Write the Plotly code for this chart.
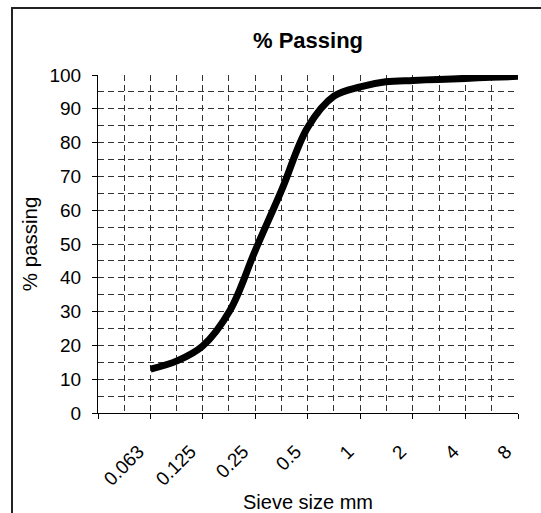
import numpy as np
import plotly.graph_objects as go

# Data
sieve_mm = [0.063, 0.09, 0.125, 0.18, 0.25, 0.355, 0.5, 0.71, 1, 1.4, 2, 2.8, 4, 5.6, 8]
pct_passing = [13, 15.5, 19.8, 30.5, 48, 66, 84.5, 93.8, 96.5, 98, 98.4, 98.7, 99, 99.3, 99.6]

tick_vals = [0.063, 0.125, 0.25, 0.5, 1, 2, 4, 8]
tick_text = ["0.063", "0.125", "0.25", "0.5", "1", "2", "4", "8"]

x_left = tick_vals[0] / 2
major_vals = [x_left] + tick_vals
minor_vals = [float(np.sqrt(a * b)) for a, b in zip(major_vals[:-1], major_vals[1:])]

FONT = "Liberation Sans, Arial, sans-serif"
GRID = "#333333"
DASH = "6px,4px"

PLOT_W = 420
xr = [np.log10(x_left), np.log10(8)]
# label axis shifted ~12px left (Excel places rotated labels a little left of the tick)
shift = 12 / PLOT_W * (xr[1] - xr[0])
xr2 = [xr[0] + shift, xr[1] + shift]

fig = go.Figure()
fig.add_trace(go.Scatter(
    x=sieve_mm, y=pct_passing, mode="lines",
    line=dict(color="black", width=7, shape="spline", smoothing=1.0),
    showlegend=False, hoverinfo="x+y"))
# invisible trace that carries the label axis
fig.add_trace(go.Scatter(
    x=tick_vals, y=[None] * len(tick_vals), xaxis="x2", mode="lines",
    showlegend=False, hoverinfo="skip"))

fig.update_layout(
    width=541, height=513,
    margin=dict(l=98, r=23, t=75, b=100, autoexpand=False),
    paper_bgcolor="white", plot_bgcolor="white",
    font=dict(family=FONT, color="black", size=19),
    title=dict(text="<b>% Passing</b>", x=(98 + 518) / 2 / 541, xanchor="center",
               y=1 - 40 / 513, yanchor="middle", font=dict(size=22, family=FONT)),
    xaxis=dict(
        type="log", range=xr, automargin=False,
        tickmode="array", tickvals=major_vals, showticklabels=False,
        ticks="outside", ticklen=5, tickcolor="black", tickwidth=1,
        showline=True, linecolor="black", linewidth=1,
        showgrid=True, gridcolor=GRID, griddash=DASH, gridwidth=1,
        minor=dict(tickmode="array", tickvals=minor_vals, showgrid=True,
                   gridcolor=GRID, griddash=DASH, gridwidth=1, ticks=""),
        zeroline=False,
    ),
    xaxis2=dict(
        type="log", range=xr2, overlaying="x", anchor="y", side="bottom",
        automargin=False,
        tickmode="array", tickvals=tick_vals, ticktext=tick_text,
        tickangle=-45, ticks="outside", ticklen=5, tickcolor="rgba(0,0,0,0)",
        ticklabelstandoff=14, showline=False, showgrid=False, zeroline=False,
        tickfont=dict(size=19),
        title=dict(text="Sieve size mm", standoff=14, font=dict(size=20)),
    ),
    yaxis=dict(
        range=[0, 100], dtick=10, ticks="outside", ticklen=5, tickcolor="black",
        automargin=False, ticklabelstandoff=7,
        showline=True, linecolor="black", linewidth=1,
        showgrid=True, gridcolor=GRID, griddash=DASH, gridwidth=1,
        minor=dict(dtick=5, showgrid=True, gridcolor=GRID, griddash=DASH,
                   gridwidth=1, ticks=""),
        zeroline=False,
        title=dict(text="% passing", standoff=6, font=dict(size=20.5)),
        tickfont=dict(size=19),
    ),
    shapes=[dict(type="rect", xref="paper", yref="paper",
                 x0=(12 - 98) / 420, x1=(600 - 98) / 420,
                 y0=(413 - 600) / 338, y1=(413 - 8) / 338,
                 line=dict(color="#222", width=2), layer="below")],
)

fig.write_html("out.html", config={"displayModeBar": False},
               post_script="document.body.style.margin='0';")
